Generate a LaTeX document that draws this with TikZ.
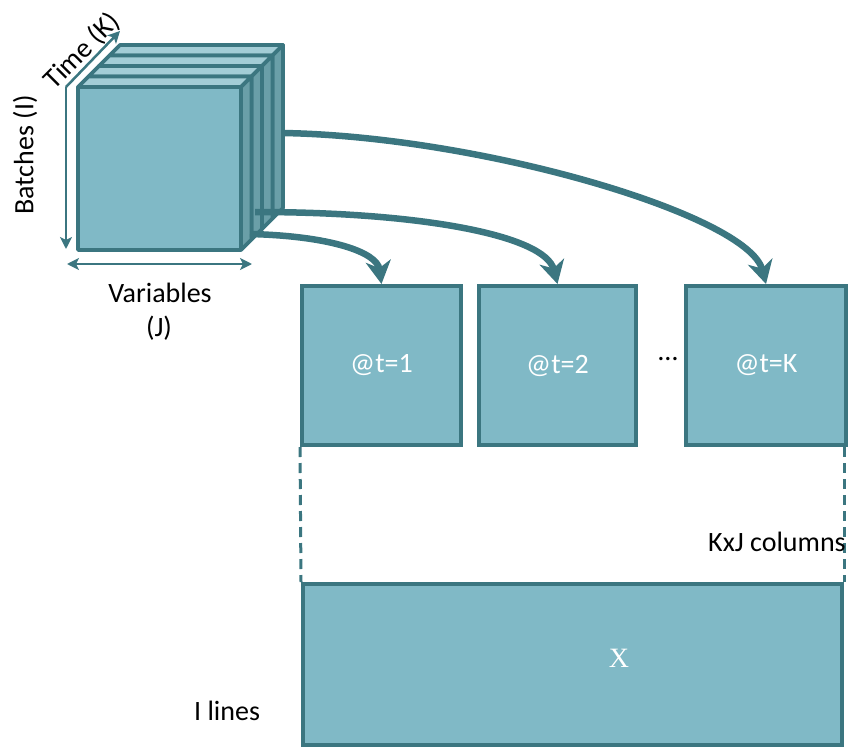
\documentclass[tikz,border=0pt]{standalone}
\usepackage{fontspec}
\setmainfont{Carlito}
\newfontfamily\xserif{Liberation Serif}
\usetikzlibrary{arrows.meta}
\definecolor{edge}{HTML}{3B7680}
\definecolor{face}{HTML}{80B9C6}
\definecolor{topface}{HTML}{A3CDD6}
\definecolor{sideface}{HTML}{6A9FA8}
\begin{document}
\begin{tikzpicture}[x=1pt,y=-1pt,
  mat/.style={draw=edge, fill=face, line width=4pt, minimum width=159pt, minimum height=159pt, inner sep=0pt, text=white, font=\fontsize{28}{32}\selectfont},
  flow/.style={draw=edge, line width=6.5pt, -{Stealth[length=23pt,width=25pt,inset=7pt]}},
  axis/.style={draw=edge, line width=2.5pt},
  tipsmall/.style={-{Stealth[length=12pt,width=12pt,inset=3pt]}},
  lbl/.style={font=\fontsize{28}{32}\selectfont, inner sep=0pt},
  slab/.style={draw=edge, line width=3.8pt, line join=round},
  dashln/.style={draw=edge, line width=3pt, dash pattern=on 10pt off 6pt}]
\useasboundingbox (0,0) rectangle (850,749);
% cube of slabs
\foreach \i in {3,2,1,0} {
  \pgfmathsetmacro\o{\i*10.5}
  \begin{scope}[shift={(\o,-\o)}]
    \filldraw[slab, fill=topface] (78,87) -- (241,87) -- (251.5,76.5) -- (88.5,76.5) -- cycle;
    \filldraw[slab, fill=sideface] (241,87) -- (251.5,76.5) -- (251.5,239.5) -- (241,250) -- cycle;
    \filldraw[slab, fill=face] (78,87) rectangle (241,250);
  \end{scope}
}
% axes
\coordinate (corner) at (66,87);
\coordinate (bend) at (66,249);
\coordinate (tend) at (120,31);
\coordinate (vl) at (67,264);
\coordinate (vr) at (252,264);
\draw[axis, tipsmall] (corner) -- (bend);
\draw[axis, tipsmall] (corner) -- (tend);
\draw[axis, {Stealth[length=12pt,width=12pt,inset=3pt]}-{Stealth[length=12pt,width=12pt,inset=3pt]}] (vl) -- (vr);
\node[lbl, rotate=90] (batches) at (25,155) {Batches (I)};
\node[lbl, rotate=45] (time) at (82,51) {Time (K)};
\node[lbl] (vars) at (160,293) {Variables};
\node[lbl] (jlab) at (159,328) {(J)};
% slices
\node[mat] (b1) at (381.5,365.5) {@t=1};
\node[mat, minimum width=157pt] (b2) at (557.5,365.5) {@t=2};
\node[mat, minimum width=160pt] (b3) at (766,365.5) {@t=K};
\node[lbl, anchor=base] (dots) at (668,360) {\ldots};
% arrows
\coordinate (s1) at (250,234);
\coordinate (s2) at (255,212);
\coordinate (s3) at (282,133);
\draw[flow] (s1) .. controls (330,236) and (377,252) .. (b1.north);
\draw[flow] (s2) .. controls (420,212) and (545,235) .. (b2.north);
\draw[flow] (s3) .. controls (480,136) and (748,215) .. (b3.north);
% unfolded matrix
\node[mat, minimum width=539pt, minimum height=161pt] (xb) at (572.5,664.5) {};
\node[inner sep=0pt, text=white, font=\xserif\fontsize{28}{32}\selectfont] (xlab) at (619,658) {X};
\draw[dashln] (b1.south west) -- (xb.north west);
\draw[dashln] (xb.north east |- b3.south) -- (xb.north east);
\node[lbl, anchor=west] (cols) at (708,542) {KxJ columns};
\node[lbl, anchor=west] (rows) at (194,711) {I lines};
\end{tikzpicture}
\end{document}
